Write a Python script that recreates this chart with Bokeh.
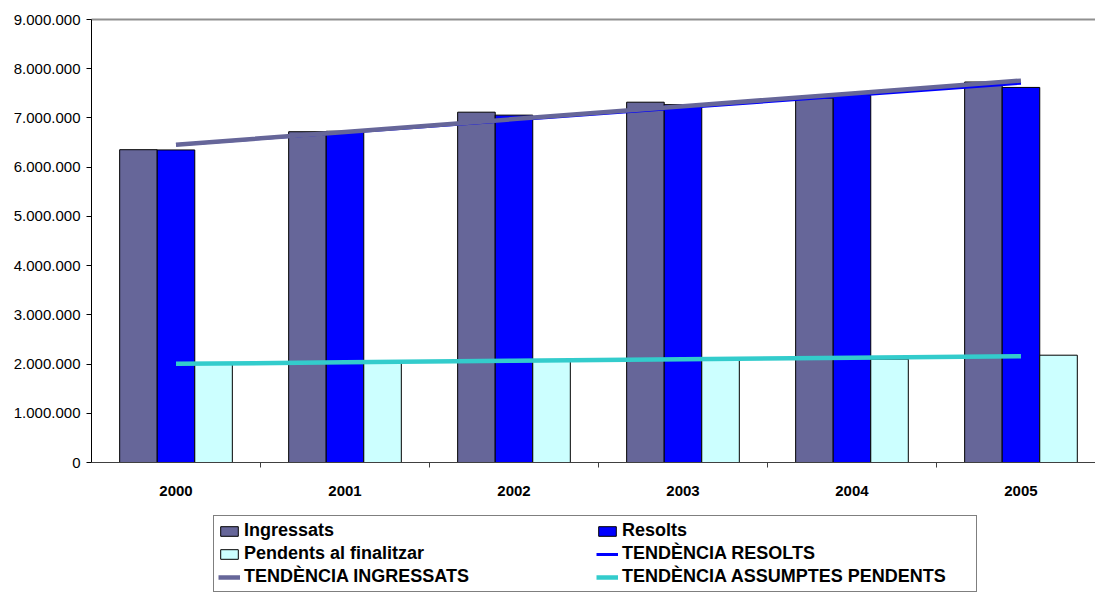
import numpy as np
from bokeh.plotting import figure
from bokeh.models import (FixedTicker, LinearAxis, Legend, LegendItem, Range1d)
from bokeh.embed import file_html
from bokeh.resources import INLINE

# ---- data ----
years = ["2000", "2001", "2002", "2003", "2004", "2005"]
ingressats = [6355000, 6720000, 7117000, 7320000, 7400000, 7730000]
resolts = [6350000, 6730000, 7057000, 7270000, 7460000, 7620000]
pendents = [2010000, 2030000, 2070000, 2100000, 2100000, 2180000]
y_ticks = [0, 1000000, 2000000, 3000000, 4000000, 5000000, 6000000, 7000000, 8000000, 9000000]
y_labels = ["0", "1.000.000", "2.000.000", "3.000.000", "4.000.000", "5.000.000",
            "6.000.000", "7.000.000", "8.000.000", "9.000.000"]

C_ING = "#666699"
C_RES = "#0000FF"
C_PEN = "#CCFFFF"
C_TPEN = "#33CCCC"
FONT = "Liberation Sans"

n = len(years)
centers = [i + 0.5 for i in range(n)]
bw = 1 / 4.5  # Excel gap width 150%

# frame spans to the page bottom so the legend (drawn inside it) is not clipped;
# the value axis 0..9M occupies the upper 443 px of the 580 px frame
y_max = 9000000
y_min = -y_max * 137 / 443

p = figure(width=1095, height=599, x_range=Range1d(0, 5.941), y_range=Range1d(y_min, y_max),
           output_backend="svg", toolbar_location=None,
           min_border_left=91, min_border_right=0, min_border_top=19, min_border_bottom=0)
p.xgrid.visible = False
p.ygrid.visible = False
p.outline_line_color = None
p.background_fill_color = "white"
p.border_fill_color = "white"

# bars
r_ing = p.vbar(x=[c - bw for c in centers], top=ingressats, width=bw, fill_color=C_ING,
               line_color="black", line_width=1)
r_res = p.vbar(x=centers, top=resolts, width=bw, fill_color=C_RES,
               line_color="black", line_width=1)
r_pen = p.vbar(x=[c + bw for c in centers], top=pendents, width=bw, fill_color=C_PEN,
               line_color="black", line_width=1)

# linear trend lines (least squares, as Excel's trendline)
idx = np.arange(n)
t_res = np.polyval(np.polyfit(idx, resolts, 1), idx)
t_ing = np.polyval(np.polyfit(idx, ingressats, 1), idx)
t_pen = np.polyval(np.polyfit(idx, pendents, 1), idx)

r_tres = p.line(x=centers, y=t_res, line_color=C_RES, line_width=3)
r_ting = p.line(x=centers, y=t_ing, line_color=C_ING, line_width=4.5)
r_tpen = p.line(x=centers, y=t_pen, line_color=C_TPEN, line_width=4.5)

# x axis, pinned at value 0
xa = p.xaxis[0]
xa.fixed_location = 0
xa.ticker = FixedTicker(ticks=centers, minor_ticks=[1, 2, 3, 4, 5])
xa.major_label_overrides = {c: y for c, y in zip(centers, years)}
xa.major_tick_out = 0
xa.major_tick_in = 0
xa.minor_tick_out = 5
xa.minor_tick_in = 0
xa.minor_tick_line_color = "#404040"
xa.axis_line_color = "#404040"
xa.major_label_standoff = 18
xa.major_label_text_font = FONT
xa.major_label_text_font_style = "bold"
xa.major_label_text_font_size = "15px"
xa.major_label_text_color = "black"

# y axis
ya = p.yaxis[0]
ya.bounds = (0, y_max)
ya.ticker = FixedTicker(ticks=y_ticks)
ya.major_label_overrides = {t: l for t, l in zip(y_ticks, y_labels)}
ya.major_tick_out = 5
ya.major_tick_in = 0
ya.minor_tick_line_color = None
ya.axis_line_color = "black"
ya.major_tick_line_color = "black"
ya.major_label_standoff = 6
ya.major_label_text_font = FONT
ya.major_label_text_font_size = "15px"
ya.major_label_text_color = "black"

# top frame line
top = LinearAxis(ticker=FixedTicker(ticks=[]), axis_line_color="#909090", axis_line_width=2,
                 major_tick_line_color=None, minor_tick_line_color=None,
                 major_label_text_font_size="0px")
p.add_layout(top, "above")

legend = Legend(
    items=[
        LegendItem(label="Ingressats", renderers=[r_ing]),
        LegendItem(label="Resolts", renderers=[r_res]),
        LegendItem(label="Pendents al finalitzar", renderers=[r_pen]),
        LegendItem(label="TENDÈNCIA RESOLTS", renderers=[r_tres]),
        LegendItem(label="TENDÈNCIA INGRESSATS", renderers=[r_ting]),
        LegendItem(label="TENDÈNCIA ASSUMPTES PENDENTS", renderers=[r_tpen]),
    ],
    location=(122, 7), orientation="horizontal", ncols=2,
    label_text_font=FONT, label_text_font_style="bold", label_text_font_size="18px",
    label_text_color="black",
    glyph_width=22, glyph_height=12, label_standoff=4, label_width=350,
    label_height=21, spacing=2, padding=4, margin=0,
    border_line_color="black", border_line_width=1, background_fill_color="white",
    background_fill_alpha=1,
)
p.add_layout(legend, "center")

open("out.html", "w").write(file_html(p, INLINE))
